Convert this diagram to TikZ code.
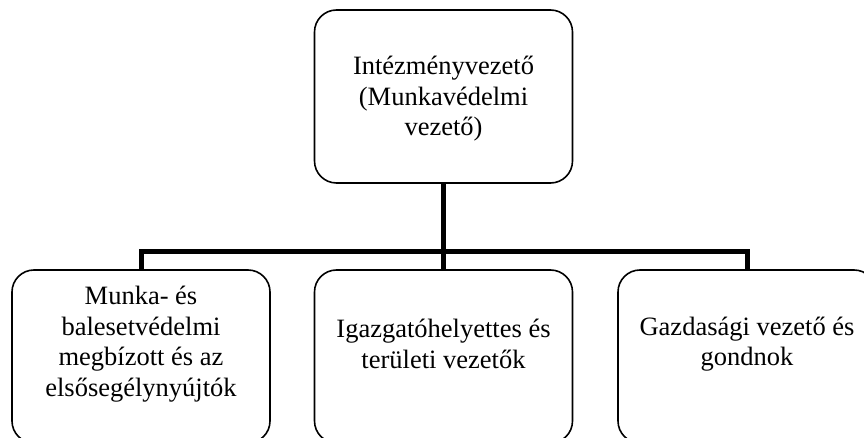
\documentclass[tikz,border=0pt]{standalone}
\usepackage{fontspec}
\setmainfont{Liberation Serif}
\usetikzlibrary{calc}

\begin{document}
\begin{tikzpicture}[x=1pt, y=-1pt,
    unit/.style={rectangle, draw, rounded corners=22pt, line width=1.6pt,
      minimum width=258pt, minimum height=173pt, inner sep=0pt},
    unittext/.style={align=center, inner sep=0pt, font=\fontsize{26.5}{30.5}\selectfont},
    link/.style={draw, line width=5pt}]
    \clip (0,0) rectangle (864,438);
    % Place nodes
    \node [unit] (head) at (443.5,96.5) {};
    \node [unittext] (headtext) at (443.5,99) {Intézményvezető\\(Munkavédelmi\\vezető)};
    \node [unit] (safety) at (141,356.5) {};
    \node [unittext] (safetytext) at (141,344) {Munka- és\\balesetvédelmi\\megbízott és az\\elsősegélynyújtók};
    \node [unit] (deputy) at (443.5,356.5) {};
    \node [unittext] (deputytext) at (443.5,344) {Igazgatóhelyettes és\\területi vezetők};
    \node [unit] (finance) at (747,356.5) {};
    \node [unittext] (financetext) at (747,344) {Gazdasági vezető és\\gondnok};
    \coordinate (bus) at (443.5,252);
    % Connectors
    \path [link] (head.south) -- (bus);
    \path [link] (bus) -| (safety.north);
    \path [link] (bus) -- (deputy.north);
    \path [link] (bus) -| (finance.north);
\end{tikzpicture}
\end{document}
